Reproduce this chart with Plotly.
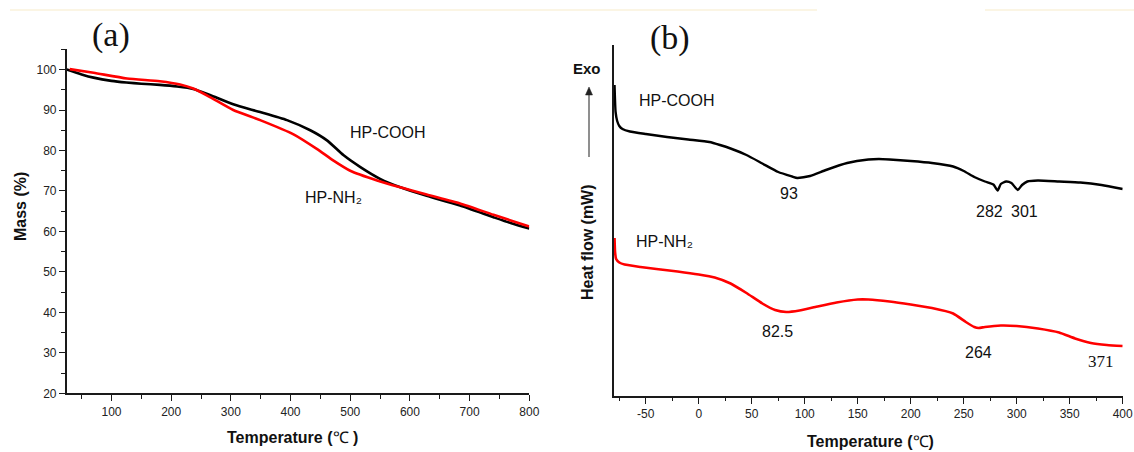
import plotly.graph_objects as go

# ---------------- (a) TGA: mass loss vs temperature ----------------
tga_cooh_temp = [25, 50, 70, 100, 125, 150, 181, 210, 237, 265, 304, 349, 394,
                 433, 461, 489, 517, 550, 584, 628, 684, 740, 770, 800]
tga_cooh_mass = [100.0, 98.8, 98.0, 97.2, 96.8, 96.5, 96.2, 95.8, 95.2, 93.7, 91.4,
                 89.5, 87.5, 85.0, 82.5, 78.8, 75.9, 73.0, 70.9, 68.8, 66.4, 63.5,
                 62.0, 60.7]

tga_nh2_temp = [30, 70, 126, 181, 215, 237, 265, 304, 349, 405, 444, 472, 500,
                545, 584, 628, 684, 740, 800]
tga_nh2_mass = [100.1, 99.2, 97.8, 97.1, 96.3, 95.3, 93.2, 90.0, 87.5, 84.0, 80.4,
                77.5, 75.0, 72.6, 70.9, 69.1, 66.9, 64.1, 61.2]

# ---------------- (b) DSC: heat flow (relative units) ----------------
dsc_cooh_temp = [-79.5, -78.5, -77, -75, -72, -65, -50, -30, -10, 10, 20, 30, 45,
                 60, 75, 88, 93, 105, 120, 140, 160, 170, 180, 200, 220, 240, 250,
                 260, 270, 278, 282, 285, 290, 295, 301, 305, 310, 320, 340, 360,
                 380, 400]
dsc_cooh_flow = [31.07, 28.37, 27.47, 26.97, 26.67, 26.42, 26.17, 25.87, 25.62,
                 25.37, 25.07, 24.72, 24.07, 23.22, 22.37, 21.92, 21.77, 21.97,
                 22.57, 23.27, 23.62, 23.67, 23.62, 23.47, 23.27, 22.92, 22.47,
                 21.87, 21.42, 21.12, 20.52, 21.17, 21.42, 21.27, 20.57, 21.07,
                 21.42, 21.52, 21.42, 21.32, 21.07, 20.67]

dsc_nh2_temp = [-79.5, -79, -78, -75, -70, -55, -40, -20, 0, 15, 30, 45, 60, 72,
                82.5, 95, 110, 130, 150, 160, 180, 200, 220, 240, 252, 260, 264,
                270, 285, 300, 320, 340, 355, 370, 385, 400]
dsc_nh2_flow = [15.77, 14.37, 13.67, 13.32, 13.12, 12.87, 12.67, 12.42, 12.12,
                11.82, 11.22, 10.27, 9.22, 8.57, 8.37, 8.52, 8.87, 9.32, 9.62,
                9.62, 9.42, 9.12, 8.77, 8.22, 7.37, 6.87, 6.77, 6.87, 7.02, 6.97,
                6.72, 6.32, 5.72, 5.27, 5.07, 4.97]

# Temperature ticks of the DSC axis (hyphen-minus labels)
dsc_tick_vals = [-50, 0, 50, 100, 150, 200, 250, 300, 350, 400]
dsc_tick_text = ["-50", "0", "50", "100", "150", "200", "250", "300", "350", "400"]

# Peak temperature labels: (text, x, y, serif?)
dsc_peak_labels = [
    ("93", 85.1, 20.27, False),
    ("282", 274.7, 18.4, False),
    ("301", 307.7, 18.4, False),
    ("82.5", 74.2, 6.4, False),
    ("264", 264.3, 4.37, False),
    ("371", 379.4, 3.4, True),
]

W, H = 1134, 452
SANS = "Arial, Liberation Sans, sans-serif"
SERIF = "Times New Roman, Liberation Serif, serif"
AX = "#1a1a1a"


def px(x):
    return x / W


def py(y):
    return 1 - y / H


fig = go.Figure()

fig.add_trace(go.Scatter(x=tga_cooh_temp, y=tga_cooh_mass, mode="lines",
                         line=dict(color="#000000", width=2.6, shape="spline", smoothing=0.6),
                         xaxis="x", yaxis="y", name="HP-COOH"))
fig.add_trace(go.Scatter(x=tga_nh2_temp, y=tga_nh2_mass, mode="lines",
                         line=dict(color="#ff0000", width=2.6, shape="spline", smoothing=0.6),
                         xaxis="x", yaxis="y", name="HP-NH2"))
fig.add_trace(go.Scatter(x=dsc_cooh_temp, y=dsc_cooh_flow, mode="lines",
                         line=dict(color="#000000", width=2.4, shape="spline", smoothing=0.5),
                         xaxis="x2", yaxis="y2", name="HP-COOH"))
fig.add_trace(go.Scatter(x=dsc_nh2_temp, y=dsc_nh2_flow, mode="lines",
                         line=dict(color="#ff0000", width=2.6, shape="spline", smoothing=0.5),
                         xaxis="x2", yaxis="y2", name="HP-NH2"))

title_font = dict(family=SANS, size=16, color="#111")
axis_common = dict(showline=True, linecolor=AX, linewidth=1.6, showgrid=False,
                   zeroline=False, ticks="outside", tickcolor=AX, tickwidth=1.2,
                   ticklen=6, tickfont=dict(family=SANS, size=12, color="#222"),
                   automargin=False)

fig.update_layout(
    width=W, height=H,
    margin=dict(l=0, r=0, t=0, b=0),
    paper_bgcolor="white", plot_bgcolor="white",
    showlegend=False,
    xaxis=dict(axis_common, domain=[66.7 / W, 529.3 / W], range=[25, 800],
               tick0=0, dtick=100, anchor="y",
               minor=dict(ticks="outside", ticklen=3.5, tickcolor=AX, tickwidth=1.2,
                          tick0=0, dtick=50)),
    yaxis=dict(axis_common, domain=[py(393.3), py(49.3)], range=[20, 105],
               tick0=0, dtick=10, anchor="x",
               minor=dict(ticks="outside", ticklen=3.5, tickcolor=AX, tickwidth=1.2,
                          tick0=0, dtick=5)),
    xaxis2=dict(axis_common, domain=[614 / W, 1122.7 / W], range=[-80, 400],
                tickmode="array", tickvals=dsc_tick_vals, ticktext=dsc_tick_text,
                anchor="y2",
                minor=dict(ticks="outside", ticklen=3.5, tickcolor=AX, tickwidth=1.2,
                           tick0=0, dtick=25)),
    yaxis2=dict(showline=True, linecolor=AX, linewidth=1.6, showgrid=False,
                zeroline=False, ticks="", showticklabels=False, automargin=False,
                domain=[py(395.7), py(45)], range=[0, 35.07], anchor="x2"),
)

annotations = []


def paper_text(text, x, y, font, angle=0, xanchor="center"):
    annotations.append(dict(text=text, x=px(x), y=py(y), xref="paper", yref="paper",
                            xanchor=xanchor, yanchor="middle", textangle=angle,
                            showarrow=False, font=font))


# Panel letters
paper_text("(a)", 111, 35, dict(family=SERIF, size=34, color="#111"))
paper_text("(b)", 670, 38, dict(family=SERIF, size=34, color="#111"))

# Axis titles
paper_text("<b>Temperature (</b>℃ <b>)</b>", 292, 437, title_font)
paper_text("<b>Temperature (</b>℃<b>)</b>", 870, 441, title_font)
paper_text("<b>Mass (%)</b>", 20, 207, title_font, angle=-90)
paper_text("<b>Heat flow (mW)</b>", 587, 242, title_font, angle=-90)
paper_text("<b>Exo</b>", 587, 68, dict(family=SANS, size=15, color="#111"))

# Curve labels
label_font = dict(family=SANS, size=16, color="#111")


def data_text(text, x, y, xref, yref, font, xanchor="center"):
    annotations.append(dict(text=text, x=x, y=y, xref=xref, yref=yref,
                            xanchor=xanchor, yanchor="middle",
                            showarrow=False, font=font))


data_text("HP-COOH", 563.6, 84.55, "x", "y", label_font)
data_text("HP-NH₂", 421, 68.35, "x", "y", label_font, xanchor="left")
data_text("HP-COOH", -58.3, 29.57, "x2", "y2", label_font, xanchor="left")
data_text("HP-NH₂", -61.1, 15.4, "x2", "y2", label_font, xanchor="left")

for text, x, y, serif in dsc_peak_labels:
    f = dict(family=SERIF, size=17, color="#111") if serif else label_font
    data_text(text, x, y, "x2", "y2", f)

fig.update_layout(annotations=annotations)

# Exothermic direction arrow: shaft plus head
fig.add_shape(type="line", xref="paper", yref="paper", x0=px(589), x1=px(589),
              y0=py(157), y1=py(92), line=dict(color="#333", width=1.1))
fig.add_shape(type="path", xref="paper", yref="paper",
              path=f"M {px(585.5)} {py(95)} L {px(589)} {py(87)} L {px(592.5)} {py(95)} Z",
              fillcolor="#222", line=dict(color="#222", width=0.5))

# Faint rule across the top of the figure
fig.add_shape(type="line", xref="paper", yref="paper", x0=px(10), x1=px(817),
              y0=py(10), y1=py(10), line=dict(color="#fbf5e4", width=2))
fig.add_shape(type="line", xref="paper", yref="paper", x0=px(985), x1=1,
              y0=py(10), y1=py(10), line=dict(color="#fbf5e4", width=2))

fig.write_html("out.html")
